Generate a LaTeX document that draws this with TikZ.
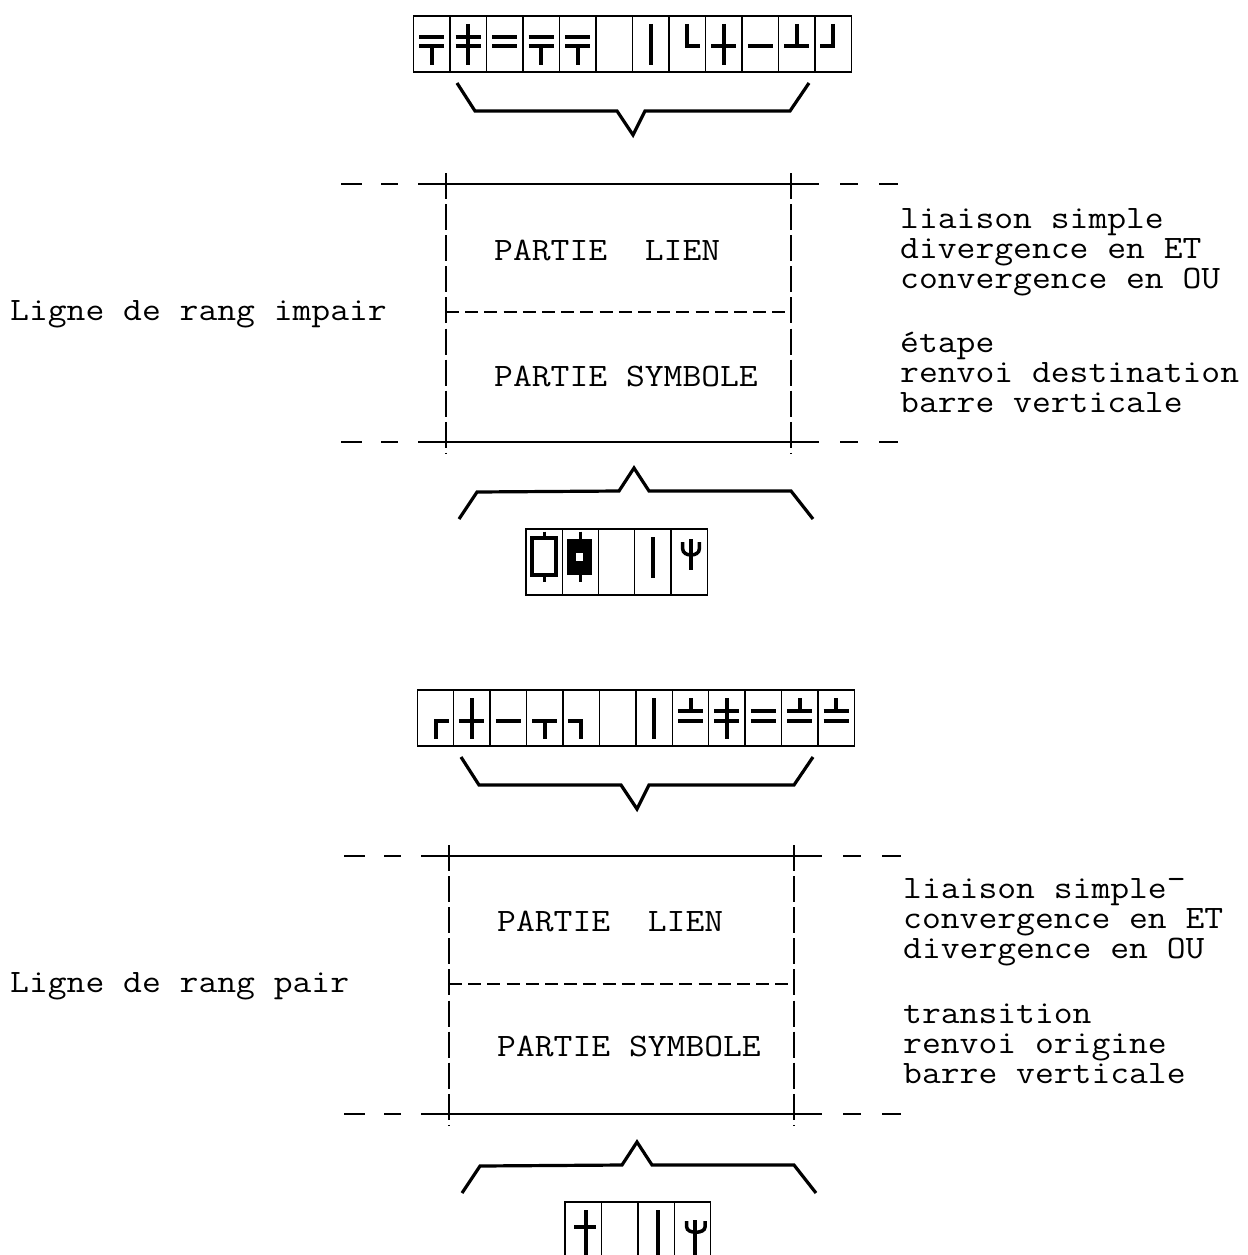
\documentclass[tikz,border=0pt]{standalone}
\begin{document}
\begin{tikzpicture}[x=1pt,y=-1pt,
  boxline/.style={line width=1.4pt},
  cellline/.style={line width=1.4pt},
  symline/.style={line width=4pt},
  braceline/.style={line width=3.2pt},
  txt/.style={font=\fontsize{32.7}{34}\selectfont\ttfamily, xscale=1.118, inner sep=0pt, anchor=base west},
  pics/symDT/.style={code={\draw[symline] (-12.5,21)--(12.5,21) (-12.5,30.5)--(12.5,30.5) (0,30.5)--(0,49);}},
  pics/symDX/.style={code={\draw[symline] (-12.5,21)--(12.5,21) (-12.5,30.5)--(12.5,30.5) (0,8)--(0,49);}},
  pics/symDD/.style={code={\draw[symline] (-12.5,21)--(12.5,21) (-12.5,30.5)--(12.5,30.5);}},
  pics/symDB/.style={code={\draw[symline] (-12.5,21)--(12.5,21) (-12.5,30.5)--(12.5,30.5) (0,8)--(0,21);}},
  pics/symV/.style={code={\draw[symline] (0,8)--(0,49);}},
  pics/symL/.style={code={\draw[symline] (0,8)--(0,30.5)--(13,30.5);}},
  pics/symX/.style={code={\draw[symline] (-12.5,30.5)--(12.5,30.5) (0,8)--(0,49);}},
  pics/symH/.style={code={\draw[symline] (-12.5,30.5)--(12.5,30.5);}},
  pics/symBT/.style={code={\draw[symline] (-12.5,30.5)--(12.5,30.5) (0,8)--(0,30.5);}},
  pics/symJ/.style={code={\draw[symline] (0,8)--(0,30.5)--(-13,30.5);}},
  pics/symR/.style={code={\draw[symline] (13,30.5)--(0,30.5)--(0,49);}},
  pics/symTT/.style={code={\draw[symline] (-12.5,30.5)--(12.5,30.5) (0,30.5)--(0,49);}},
  pics/symSeven/.style={code={\draw[symline] (-13,30.5)--(0,30.5)--(0,49);}},
  pics/boxframe/.style={code={
    \foreach \yy in {184,442}{
      \draw[boxline] (341,\yy)--(362,\yy) (381,\yy)--(398,\yy) (418,\yy)--(819,\yy) (840,\yy)--(858,\yy) (879,\yy)--(898,\yy);
    }
    \draw[boxline, dash pattern=on 26pt off 5.1pt] (446,173)--(446,453);
    \draw[boxline, dash pattern=on 26pt off 5.1pt] (791,173)--(791,453);
    \draw[boxline, dash pattern=on 13pt off 6.2pt] (446,312)--(791,312);
  }}
]
\useasboundingbox (0,0) rectangle (1247,1255);

% ---------- Row 1 ----------
\draw[cellline] (413.3,16) rectangle (851.7,72);
\foreach \i in {1,...,11} \draw[cellline] ({413.3+36.53*\i},16) -- ++(0,56);
\pic at (431.6,16) {symDT};
\pic at (468.1,16) {symDX};
\pic at (504.6,16) {symDD};
\pic at (541.2,16) {symDT};
\pic at (577.7,16) {symDT};
\pic at (650.8,16) {symV};
\pic at (687.3,16) {symL};
\pic at (723.8,16) {symX};
\pic at (760.4,16) {symH};
\pic at (796.9,16) {symBT};
\pic at (833.4,16) {symJ};

% brace 1
\draw[braceline] (457,83) -- (475,111) -- (617,111) -- (633,135) -- (645,111) -- (790,111) -- (809,83);

% ---------- Box 1 ----------
\pic at (0,0) {boxframe};
\node[txt] (lien1) at (494,260) {PARTIE\ \ LIEN};
\node[txt] (symb1) at (494,386) {PARTIE SYMBOLE};
\node[txt] (rang1) at (10,320) {Ligne de rang impair};
\node[txt] (r1a) at (900,228) {liaison simple};
\node[txt] (r1b) at (900,258) {divergence en ET};
\node[txt] (r1c) at (900,288) {convergence en OU};
\node[txt] (r1d) at (900,352) {étape};
\node[txt] (r1e) at (900,382) {renvoi destination};
\node[txt] (r1f) at (900,412) {barre verticale};

% brace 2
\draw[braceline] (459,519) -- (477,492) -- (619,491) -- (634,468) -- (649,491) -- (791,491) -- (813,519);

% ---------- Row 3 ----------
\draw[cellline] (526,529) rectangle (707.3,595);
\foreach \i in {1,...,4} \draw[cellline] ({526+36.26*\i},529) -- ++(0,66);
\begin{scope}[shift={(544.1,529)}]
  \draw[line width=3.5pt] (-12,9) rectangle (12,46);
  \draw[line width=3pt] (0,2.5)--(0,9) (0,46)--(0,52.5);
\end{scope}
\begin{scope}[shift={(580.4,529)}]
  \fill (-13,10) rectangle (12,46);
  \fill[white] (-4.5,24) rectangle (3,32);
  \draw[line width=3pt] (0,2.5)--(0,10) (0,46)--(0,52.5);
\end{scope}
\pic at (652.9,529) {symV};
\begin{scope}[shift={(689.2,529)}]
  \draw[symline,line width=3.5pt] (-6.5,13) -- (-6.5,20) .. controls (-6.5,28) and (10.1,28) .. (10.1,20) -- (10.1,13);
  \draw[symline] (1.8,10) -- (1.8,41);
\end{scope}

% ---------- Row 2 ----------
\draw[cellline] (417.3,690) rectangle (854.3,746);
\foreach \i in {1,...,11} \draw[cellline] ({417.3+36.42*\i},690) -- ++(0,56);
\pic at (435.5,690) {symR};
\pic at (471.9,690) {symX};
\pic at (508.4,690) {symH};
\pic at (544.8,690) {symTT};
\pic at (581.2,690) {symSeven};
\pic at (654.0,690) {symV};
\pic at (690.5,690) {symDB};
\pic at (726.9,690) {symDX};
\pic at (763.3,690) {symDD};
\pic at (799.7,690) {symDB};
\pic at (836.1,690) {symDB};

% brace 3
\draw[braceline] (461,757) -- (479,785) -- (621,785) -- (637,809) -- (649,785) -- (794,785) -- (813,757);

% ---------- Box 2 ----------
\pic at (3,672) {boxframe};
\node[txt] (lien2) at (497,931) {PARTIE\ \ LIEN};
\node[txt] (symb2) at (497,1056) {PARTIE SYMBOLE};
\node[txt] (rang2) at (10,992) {Ligne de rang pair};
\node[txt] (r2a) at (903,898) {liaison simple\raisebox{0.25em}{-}};
\node[txt] (r2b) at (903,928) {convergence en ET};
\node[txt] (r2c) at (903,958) {divergence en OU};
\node[txt] (r2d) at (903,1023) {transition};
\node[txt] (r2e) at (903,1053) {renvoi origine};
\node[txt] (r2f) at (903,1083) {barre verticale};

% brace 4
\draw[braceline] (462,1193) -- (480,1166) -- (622,1165) -- (637,1142) -- (652,1165) -- (794,1165) -- (816,1193);

% ---------- Row 4 ----------
\draw[cellline] (565,1268) -- (565,1202) -- (710.7,1202) -- (710.7,1268);
\foreach \i in {1,...,3} \draw[cellline] ({565+36.42*\i},1202) -- ++(0,66);
\begin{scope}[shift={(583.2,1202)}]
  \draw[symline] (-9,25.3) -- (13,25.3) (2.8,8) -- (2.8,53);
\end{scope}
\draw[symline] (658.3,1210) -- (658.3,1255);
\begin{scope}[shift={(692.5,1202)}]
  \draw[symline,line width=3.5pt] (-5.8,19) -- (-5.8,25) .. controls (-5.8,32) and (12.5,32) .. (12.5,25) -- (12.5,19);
  \draw[symline] (2.5,18) -- (2.5,53);
\end{scope}
\end{tikzpicture}
\end{document}
